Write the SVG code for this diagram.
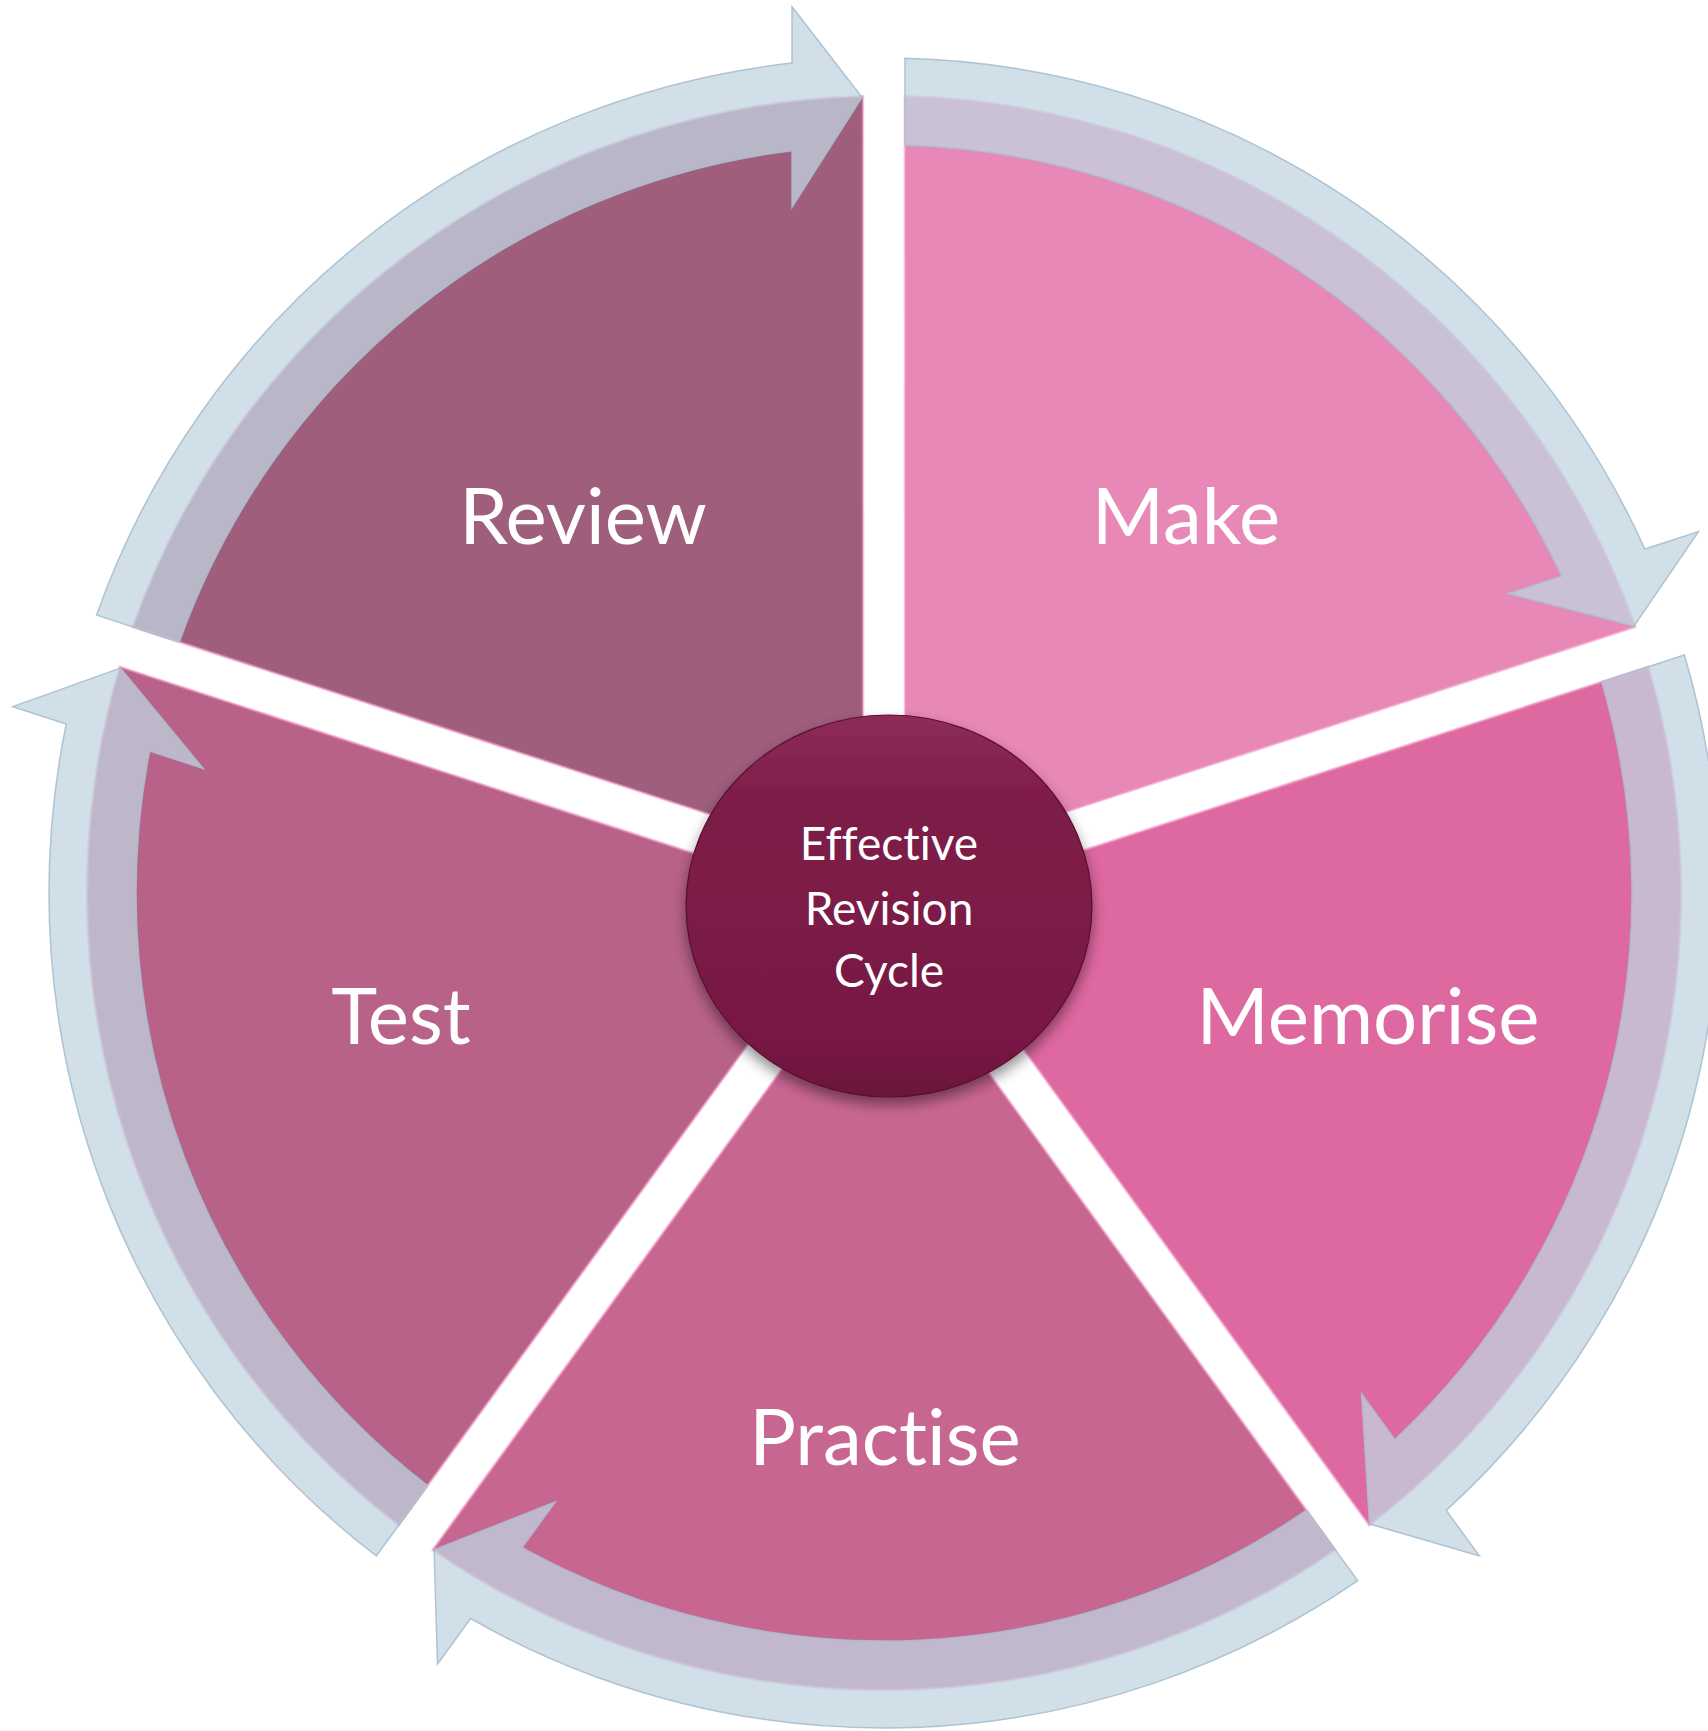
<svg xmlns="http://www.w3.org/2000/svg" xmlns:xlink="http://www.w3.org/1999/xlink" width="1708" height="1731" viewBox="0 0 1708 1731">
<style>
.sector{stroke:#f29ac8;stroke-width:2.5;stroke-opacity:0.6}
.arrow{fill:#c0d4e0;fill-opacity:0.75;stroke:#a9bece;stroke-width:1.5;stroke-opacity:0.9}
.lbl{font-family:Lato,"Open Sans","Liberation Sans",sans-serif;font-size:78px;fill:#ffffff;text-anchor:middle;font-variant-ligatures:none;font-feature-settings:"liga" 0,"clig" 0}
.ctr{font-family:Lato,"Open Sans","Liberation Sans",sans-serif;font-size:46px;fill:#ffffff;text-anchor:middle;font-variant-ligatures:none;font-feature-settings:"liga" 0,"clig" 0}
</style>
<defs>
<path id="sector" d="M 0,-35.7 L -451.32,-656.89 A 797 797 0 0 1 451.32,-656.89 Z"/>
<path id="arrow" d="M -422.51,-617.24 A 748 748 0 0 1 361.90,-654.62 L 328.72,-608.94 L 449.91,-656.65 L 446.50,-771.05 L 413.40,-725.48 A 835 835 0 0 0 -473.67,-687.64 Z"/>
<linearGradient id="hubGrad" x1="0" y1="0" x2="0" y2="1">
<stop offset="0" stop-color="#8d2c5a"/>
<stop offset="0.25" stop-color="#7c1b48"/>
<stop offset="0.85" stop-color="#781944"/>
<stop offset="1" stop-color="#6a133b"/>
</linearGradient>
<filter id="shadow" x="-20%" y="-20%" width="140%" height="150%">
<feGaussianBlur in="SourceAlpha" stdDeviation="7"/>
<feOffset dx="0" dy="7" result="b"/>
<feComponentTransfer><feFuncA type="linear" slope="0.45"/></feComponentTransfer>
<feMerge><feMergeNode/><feMergeNode in="SourceGraphic"/></feMerge>
</filter>
</defs>
<rect width="1708" height="1731" fill="#ffffff"/>
<g id="node-review">
<use href="#sector" class="sector" fill="#9e5e7c" transform="translate(884 893) rotate(-36)"/>
<text class="lbl" x="583" y="544">Review</text>
</g>
<g id="node-make">
<use href="#sector" class="sector" fill="#e888b6" transform="translate(884 893) rotate(36)"/>
<text class="lbl" x="1186" y="544">Make</text>
</g>
<g id="node-memorise">
<use href="#sector" class="sector" fill="#de68a0" transform="translate(884 893) rotate(108)"/>
<text class="lbl" x="1368" y="1044">Memorise</text>
</g>
<g id="node-practise">
<use href="#sector" class="sector" fill="#c86692" transform="translate(884 893) rotate(180)"/>
<text class="lbl" x="885" y="1465">Practise</text>
</g>
<g id="node-test">
<use href="#sector" class="sector" fill="#b86289" transform="translate(884 893) rotate(252)"/>
<text class="lbl" x="401" y="1044">Test</text>
</g>
<g id="connectors">
<use href="#arrow" class="arrow" transform="translate(884 893) rotate(-36)"/>
<use href="#arrow" class="arrow" transform="translate(884 893) rotate(36)"/>
<use href="#arrow" class="arrow" transform="translate(884 893) rotate(108)"/>
<use href="#arrow" class="arrow" transform="translate(884 893) rotate(180)"/>
<use href="#arrow" class="arrow" transform="translate(884 893) rotate(252)"/>
</g>
<g id="node-center">
<ellipse cx="889" cy="906" rx="203" ry="191" fill="url(#hubGrad)" stroke="#5c0f32" stroke-width="1.2" filter="url(#shadow)"/>
<text class="ctr" x="889" y="860">Effective</text>
<text class="ctr" x="889" y="925">Revision</text>
<text class="ctr" x="889" y="987">Cycle</text>
</g>
</svg>
